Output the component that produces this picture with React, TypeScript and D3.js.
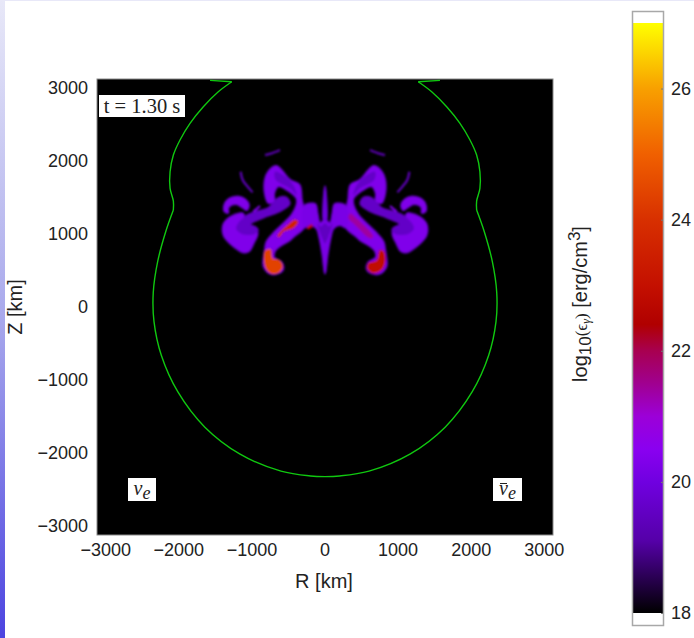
import React, { useEffect, useRef } from "react";
import * as d3 from "d3";

// shock front, left half [R km, Z km], mirrored for the right half
const frontTip: [number, number][] = [[-1573, 3101], [-1276, 3082]];
const frontUpper: [number, number][] = [
  [-1276, 3082], [-1460, 2945], [-1665, 2740], [-1847, 2513], [-1984, 2285],
  [-2075, 2079], [-2120, 1851], [-2120, 1624], [-2075, 1450], [-2075, 1327],
];
const frontLower: [number, number][] = [
  [-2075, 1327], [-2180, 1030], [-2290, 620], [-2350, 200], [-2340, -200], [-2240, -660], [-2013, -1162],
  [-1644, -1644], [-1162, -2013], [-602, -2246], [-200, -2312], [0, -2321],
];

// plume regions, drawn on both sides. level = log10(eps)
const outerLobe: [number, number][] = [
  [-1400, 1053], [-1382, 1145], [-1300, 1227], [-1163, 1281], [-1117, 1272], [-1100, 1140], [-960, 1090],
  [-926, 999], [-980, 871], [-1035, 771], [-1117, 748], [-1231, 816], [-1322, 894], [-1382, 971],
];
const armLobe: [number, number][] = [
  [-1218, 1076], [-1154, 1190], [-980, 1290], [-775, 1350], [-638, 1487], [-534, 1496], [-488, 1409],
  [-638, 1304], [-844, 1227], [-1026, 1135], [-926, 1062], [-958, 999], [-1140, 999],
];
const outerArch: [number, number][] = [
  [-1382, 1327], [-1363, 1427], [-1300, 1487], [-1186, 1509], [-1094, 1473], [-1044, 1395], [-1072, 1327],
  [-1126, 1363], [-1208, 1409], [-1290, 1395], [-1327, 1350], [-1327, 1290], [-1363, 1300],
];
const mainStem: [number, number][] = [
  [-844, 597], [-821, 780], [-798, 894], [-684, 1031], [-456, 1259], [-388, 1395], [-388, 1487], [-515, 1601],
  [-638, 1655], [-698, 1555], [-698, 1441], [-775, 1427], [-821, 1555], [-821, 1737], [-775, 1851], [-670, 1929],
  [-606, 1883], [-479, 1737], [-351, 1669], [-319, 1464], [-287, 1327], [-251, 1227], [-296, 1076], [-433, 962],
  [-479, 917], [-616, 834], [-684, 771], [-698, 679], [-593, 606], [-579, 506], [-684, 451], [-775, 470], [-834, 543],
];
const stemShade: [number, number][] = [
  [-684, 1851], [-570, 1806], [-433, 1669], [-388, 1532], [-479, 1623], [-616, 1692], [-684, 1760],
];
const centreLobe: [number, number][] = [
  [-296, 1373], [-137, 1409], [-105, 1281], [-68, 1145], [0, 1190], [0, 461], [-32, 711], [-78, 962],
  [-114, 1076], [-205, 1122], [-296, 1090],
];
const centreShade: [number, number][] = [[-105, 1145], [-59, 1100], [0, 1145], [0, 871], [-46, 962]];
const centreSpike: [number, number][] = [[0, 1646], [-18, 1190], [0, 1190]];

const plumes = [
  { points: outerLobe, level: 20.3 },
  { points: armLobe, level: 19.6 },
  { points: outerArch, level: 20.3 },
  { points: mainStem, level: 20.3 },
  { points: stemShade, level: 19.6 },
  { points: centreLobe, level: 20.2 },
  { points: centreShade, level: 19.5 },
  { points: centreSpike, level: 20.0 },
];

// thin strands
const wisps = [
  { points: [[-1154, 1851], [-1126, 1737], [-1026, 1610], [-990, 1569]] as [number, number][], level: 19.4 },
  { points: [[-821, 2079], [-730, 2102], [-616, 2148]] as [number, number][], level: 19.2 },
  { points: [[-980, 1304], [-889, 1382]] as [number, number][], level: 20.3 },
];

// hot spots differ between the electron neutrino side and the antineutrino side
const hotNuE = [
  { points: [[-821, 771], [-743, 789], [-716, 666], [-625, 643], [-579, 560], [-616, 483], [-716, 451], [-798, 506], [-834, 620]] as [number, number][], level: 24.4 },
  { points: [[-652, 971], [-515, 1122], [-410, 1199], [-365, 1167], [-433, 1076], [-570, 1026], [-625, 953]] as [number, number][], level: 23.6 },
  { points: [[-251, 1076], [-182, 1135], [-169, 1099], [-228, 1062]] as [number, number][], level: 22.6 },
];
const hotNuEBar = [
  { points: [[593, 597], [707, 643], [752, 780], [807, 757], [825, 620], [775, 506], [661, 461], [584, 515]] as [number, number][], level: 22.9 },
  { points: [[342, 1281], [433, 1213], [661, 962], [616, 939], [410, 1122], [319, 1213]] as [number, number][], level: 21.4 },
];

const axisTicks = [-3000, -2000, -1000, 0, 1000, 2000, 3000];
const barTicks = [18, 20, 22, 24, 26];
const barStops = [18, 19.1, 20, 20.5, 21, 21.5, 22, 22.4, 23, 24, 25, 26, 27];
const barColors = ["#000000", "#5500a8", "#7000e0", "#8a00f0", "#9c00d8", "#a00090", "#a80050", "#b00000", "#c41000", "#d83000", "#f06000", "#f8a000", "#ffff00"];

const SANS = "'Liberation Sans', Arial, sans-serif";
const SERIF = "'Liberation Serif', 'Times New Roman', serif";
const INK = "#222222";

export default function App() {
  const ref = useRef<SVGSVGElement>(null);

  useEffect(() => {
    const svg = d3.select(ref.current);
    svg.selectAll("*").remove();

    const W = 694, H = 638;
    const box = { left: 97, right: 553, top: 79, bottom: 535 };

    const x = d3.scaleLinear().domain([-3120, 3120]).range([box.left, box.right]);
    const y = d3.scaleLinear().domain([-3120, 3120]).range([box.bottom, box.top]);
    const color = d3.scaleLinear<string>().domain(barStops).range(barColors);

    const bar = { left: 633, right: 663, top: 23, bottom: 613 };
    const cy = d3.scaleLinear().domain([18, 27]).range([bar.bottom, bar.top]);

    const defs = svg.append("defs");
    const grad = defs.append("linearGradient").attr("id", "stripe").attr("x1", 0).attr("x2", 0).attr("y1", 0).attr("y2", 1);
    grad.append("stop").attr("offset", "0%").attr("stop-color", "#e8e8f8");
    grad.append("stop").attr("offset", "50%").attr("stop-color", "#a8a8ec");
    grad.append("stop").attr("offset", "100%").attr("stop-color", "#4c44e0");
    const barGrad = defs.append("linearGradient").attr("id", "barFill").attr("x1", 0).attr("x2", 0).attr("y1", 1).attr("y2", 0);
    barStops.forEach((s, i) => {
      barGrad.append("stop").attr("offset", (s - 18) / 9).attr("stop-color", barColors[i]);
    });
    defs.append("filter").attr("id", "soft").append("feGaussianBlur").attr("stdDeviation", 0.8);
    const clip = defs.append("clipPath").attr("id", "plot");
    clip.append("rect").attr("x", box.left).attr("y", box.top).attr("width", box.right - box.left).attr("height", box.bottom - box.top);

    // slide background
    svg.append("rect").attr("width", W).attr("height", H).attr("fill", "#ffffff");
    svg.append("rect").attr("width", 5).attr("height", H).attr("fill", "url(#stripe)");
    svg.append("rect").attr("width", W).attr("height", 1).attr("fill", "#e8e8f8");

    // plot area
    svg.append("rect")
      .attr("x", box.left).attr("y", box.top)
      .attr("width", box.right - box.left).attr("height", box.bottom - box.top)
      .attr("fill", "#000000").attr("stroke", "#8a8a8a").attr("stroke-width", 1);

    const plot = svg.append("g").attr("clip-path", "url(#plot)");
    const soft = plot.append("g").attr("filter", "url(#soft)");

    const closed = d3.line<[number, number]>().x(d => x(d[0])).y(d => y(d[1])).curve(d3.curveCatmullRomClosed.alpha(0.5));
    const open = d3.line<[number, number]>().x(d => x(d[0])).y(d => y(d[1])).curve(d3.curveCatmullRom.alpha(0.5));
    const straight = d3.line<[number, number]>().x(d => x(d[0])).y(d => y(d[1]));
    const mirror = (pts: [number, number][]) => pts.map(p => [-p[0], p[1]] as [number, number]);

    // dim halo under everything, the gas fades out at the plume edges
    plumes.forEach(p => {
      [p.points, mirror(p.points)].forEach(pts => {
        soft.append("path").attr("d", closed(pts)).attr("fill", "none")
          .attr("stroke", color(19.3)).attr("stroke-width", 2.5).attr("stroke-linejoin", "round");
      });
    });
    plumes.forEach(p => {
      [p.points, mirror(p.points)].forEach(pts => {
        soft.append("path").attr("d", closed(pts)).attr("fill", color(p.level));
      });
    });
    wisps.forEach(w => {
      [w.points, mirror(w.points)].forEach(pts => {
        soft.append("path").attr("d", open(pts)).attr("fill", "none").attr("stroke", color(w.level)).attr("stroke-width", 2.2);
      });
    });
    [...hotNuE, ...hotNuEBar].forEach(h => {
      soft.append("path").attr("d", closed(h.points)).attr("fill", color(h.level));
    });

    // shock front
    [false, true].forEach(flip => {
      const pick = (pts: [number, number][]) => (flip ? mirror(pts) : pts);
      const green = (d: string | null) =>
        plot.append("path").attr("d", d).attr("fill", "none").attr("stroke", "#10c810").attr("stroke-width", 1.4);
      green(straight(pick(frontTip)));
      green(open(pick(frontUpper)));
      green(open(pick(frontLower)));
    });

    // axes
    const fmt = (d: d3.NumberValue) => String(d).replace("-", "\u2212");
    const xAxis = svg.append("g").attr("transform", `translate(-0.5,${box.bottom})`)
      .call(d3.axisBottom(x).tickValues(axisTicks).tickSize(0).tickPadding(8).tickFormat(fmt));
    const yAxis = svg.append("g").attr("transform", `translate(${box.left - 2},0)`)
      .call(d3.axisLeft(y).tickValues(axisTicks).tickSize(0).tickPadding(7).tickFormat(fmt));
    [xAxis, yAxis].forEach(g => {
      g.select(".domain").remove();
      g.selectAll("text").attr("font-family", SANS).attr("font-size", 18).attr("fill", INK);
    });

    svg.append("text").attr("x", 324).attr("y", 588).attr("text-anchor", "middle")
      .attr("font-family", SANS).attr("font-size", 20).attr("fill", INK).text("R [km]");
    svg.append("text").attr("transform", "translate(22,307) rotate(-90)").attr("text-anchor", "middle")
      .attr("font-family", SANS).attr("font-size", 20).attr("fill", INK).text("Z [km]");

    // annotation boxes
    const note = (bx: number, by: number, bw: number, bh: number) =>
      svg.append("rect").attr("x", bx).attr("y", by).attr("width", bw).attr("height", bh).attr("fill", "#ffffff");
    note(99, 95, 86, 22);
    svg.append("text").attr("x", 142).attr("y", 113).attr("text-anchor", "middle")
      .attr("font-family", SERIF).attr("font-size", 20.5).attr("fill", INK).text("t = 1.30 s");

    const nuLabel = (bx: number, bw: number, barred: boolean) => {
      note(bx, 478, bw, 23);
      const t = svg.append("text").attr("x", bx + bw / 2).attr("y", 495).attr("text-anchor", "middle")
        .attr("font-family", SERIF).attr("font-style", "italic").attr("font-size", 20).attr("fill", INK);
      t.append("tspan").text("\u03bd");
      t.append("tspan").attr("dy", 4).attr("font-size", 18).text("e");
      if (barred) {
        // the bar over nu
        svg.append("line").attr("x1", bx + 7).attr("x2", bx + 14).attr("y1", 483.5).attr("y2", 483.5)
          .attr("stroke", INK).attr("stroke-width", 1);
      }
    };
    nuLabel(128, 28, false);
    nuLabel(493, 29, true);

    // colour bar
    svg.append("rect").attr("x", bar.left).attr("y", cy(27)).attr("width", bar.right - bar.left)
      .attr("height", cy(18) - cy(27)).attr("fill", "url(#barFill)");
    svg.append("rect").attr("x", bar.left - 0.5).attr("y", 11.5).attr("width", bar.right - bar.left + 1).attr("height", 614)
      .attr("fill", "none").attr("stroke", "#a8a8a8").attr("stroke-width", 1.5);

    const barAxis = svg.append("g").attr("transform", `translate(${bar.right},0)`)
      .call(d3.axisRight(cy).tickValues(barTicks).tickSize(-2).tickPadding(8).tickFormat(d => String(d)));
    barAxis.select(".domain").remove();
    barAxis.selectAll("line").attr("stroke", "#777777");
    barAxis.selectAll("text").attr("font-family", SANS).attr("font-size", 18).attr("fill", INK);

    const barLabel = svg.append("text").attr("transform", "translate(587,304) rotate(-90)").attr("text-anchor", "middle")
      .attr("font-family", SANS).attr("font-size", 20).attr("fill", INK);
    barLabel.append("tspan").text("log");
    barLabel.append("tspan").attr("dy", 4).attr("font-size", 17).text("10");
    barLabel.append("tspan").attr("dy", -4).attr("font-family", SERIF).attr("font-size", 17).text("(\u03f5");
    barLabel.append("tspan").attr("dy", 3).attr("font-family", SERIF).attr("font-style", "italic").attr("font-size", 12).text("\u03b3");
    barLabel.append("tspan").attr("dy", -3).attr("font-family", SERIF).attr("font-size", 17).text(")");
    barLabel.append("tspan").text(" [erg/cm");
    barLabel.append("tspan").attr("dy", -7).attr("font-size", 17).text("3");
    barLabel.append("tspan").attr("dy", 7).text("]");
  }, []);

  return (
    <svg
      ref={ref}
      width={694}
      height={638}
      style={{ position: "absolute", left: 0, top: 0, display: "block" }}
    />
  );
}
